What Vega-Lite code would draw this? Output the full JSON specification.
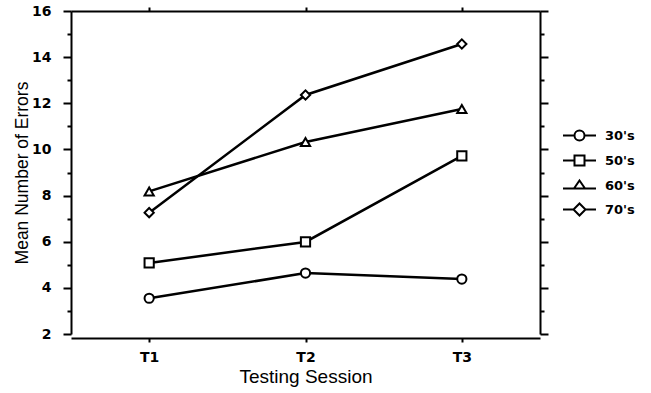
{
  "$schema": "https://vega.github.io/schema/vega-lite/v6.json",
  "width": 469,
  "height": 323,
  "autosize": "none",
  "padding": {"left": 71, "top": 11, "right": 111, "bottom": 59},
  "background": "white",
  "config": {
    "view": {"stroke": null},
    "font": "Liberation Sans",
    "axis": {
      "domainColor": "black",
      "tickColor": "black",
      "domainWidth": 2,
      "tickWidth": 2,
      "labelColor": "black",
      "titleColor": "black",
      "grid": false
    }
  },
  "data": {
    "values": [
      {"session": "T1", "decade": "30's", "errors": 3.55},
      {"session": "T2", "decade": "30's", "errors": 4.64},
      {"session": "T3", "decade": "30's", "errors": 4.38},
      {"session": "T1", "decade": "50's", "errors": 5.08},
      {"session": "T2", "decade": "50's", "errors": 5.99},
      {"session": "T3", "decade": "50's", "errors": 9.72},
      {"session": "T1", "decade": "60's", "errors": 8.18},
      {"session": "T2", "decade": "60's", "errors": 10.32},
      {"session": "T3", "decade": "60's", "errors": 11.75},
      {"session": "T1", "decade": "70's", "errors": 7.26},
      {"session": "T2", "decade": "70's", "errors": 12.36},
      {"session": "T3", "decade": "70's", "errors": 14.57}
    ]
  },
  "layer": [
    {
      "mark": {"type": "line", "color": "black", "strokeWidth": 2.5},
      "encoding": {
        "x": {
          "field": "session",
          "type": "ordinal",
          "scale": {"type": "point", "padding": 0.5},
          "axis": {
            "orient": "bottom",
            "offset": 4,
            "title": "Testing Session",
            "labelAngle": 0,
            "labelFont": "DejaVu Sans",
            "labelFontWeight": "bold",
            "labelFontSize": 14,
            "tickSize": 4,
            "labelPadding": 8,
            "titleFontSize": 19,
            "titleFontWeight": "normal",
            "titlePadding": 3
          }
        },
        "y": {
          "field": "errors",
          "type": "quantitative",
          "scale": {"domain": [2, 16], "nice": false, "zero": false},
          "axis": {
            "orient": "left",
            "values": [2, 3, 4, 5, 6, 7, 8, 9, 10, 11, 12, 13, 14, 15, 16],
            "labelExpr": "datum.value % 2 == 0 ? datum.label : ''",
            "tickSize": {"condition": {"test": "datum.value % 2 == 0", "value": 8}, "value": 4},
            "labelPadding": 12,
            "labelFont": "DejaVu Sans",
            "labelFontWeight": "bold",
            "labelFontSize": 14,
            "title": "Mean Number of Errors",
            "titleFontSize": 17.5,
            "titleFontWeight": "normal",
            "titlePadding": 0
          }
        },
        "detail": {"field": "decade"}
      }
    },
    {
      "mark": {"type": "point", "filled": true, "fill": "white", "stroke": "black", "strokeWidth": 2, "size": 85, "opacity": 1},
      "encoding": {
        "x": {
          "field": "session",
          "type": "ordinal",
          "scale": {"type": "point", "padding": 0.5},
          "axis": {"orient": "top", "labels": false, "title": null, "tickSize": 4}
        },
        "y": {
          "field": "errors",
          "type": "quantitative",
          "axis": {
            "orient": "right",
            "values": [2, 3, 4, 5, 6, 7, 8, 9, 10, 11, 12, 13, 14, 15, 16],
            "labels": false,
            "title": null,
            "tickSize": {"condition": {"test": "datum.value % 2 == 0", "value": 8}, "value": 4}
          }
        },
        "shape": {
          "field": "decade",
          "type": "nominal",
          "scale": {"domain": ["30's", "50's", "60's", "70's"], "range": ["circle", "square", "triangle-up", "diamond"]},
          "legend": null
        }
      }
    },
    {
      "transform": [{"filter": "datum.errors < 0"}],
      "mark": {"type": "point", "filled": true, "fill": "white", "stroke": "black", "strokeWidth": 2, "opacity": 1},
      "encoding": {
        "x": {"field": "session", "type": "ordinal", "axis": null},
        "y": {"field": "errors", "type": "quantitative", "axis": null},
        "shape": {
          "field": "decade",
          "type": "nominal",
          "scale": {
            "domain": ["30's", "50's", "60's", "70's"],
            "range": [
              "M-3.3,0H-1M1,0H3.3M-1,0A1,1,0,1,1,1,0A1,1,0,1,1,-1,0Z",
              "M-3.3,0H-1M1,0H3.3M-1,-1H1V1H-1Z",
              "M-3.3,0.6H-1.1M1.1,0.6H3.3M0,-1L1.1,0.6H-1.1Z",
              "M-3.3,0H-1.2M1.2,0H3.3M0,-1.2L1.2,0L0,1.2L-1.2,0Z"
            ]
          },
          "legend": {
            "title": null,
            "orient": "none",
            "legendX": 502,
            "legendY": 118,
            "symbolSize": 100,
            "symbolStrokeWidth": 2,
            "labelFont": "DejaVu Sans",
            "labelFontSize": 13,
            "labelFontWeight": "bold",
            "labelColor": "black",
            "labelOffset": 19,
            "rowPadding": 6
          }
        }
      }
    }
  ],
  "resolve": {"axis": {"x": "independent", "y": "independent"}, "scale": {"shape": "independent"}}
}
